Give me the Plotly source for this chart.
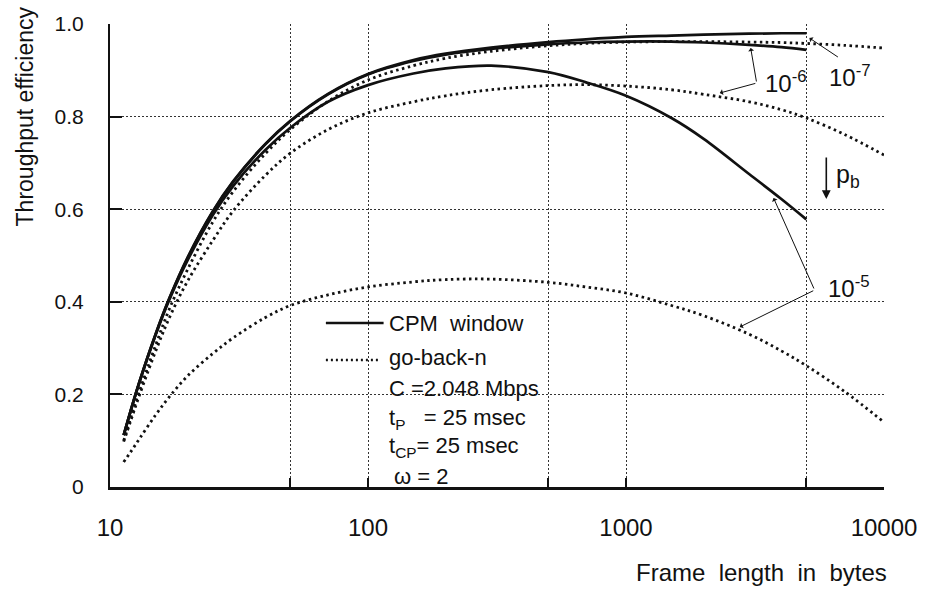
import plotly.graph_objects as go

# ---------------- data ----------------
frame_cpm = [11.3, 12, 13, 15, 17, 20, 25, 30, 40, 50, 70, 100, 150, 200, 300,
             500, 700, 1000, 1500, 2000, 3000, 4000, 5000]
cpm_pb1e7 = [0.112, 0.163, 0.227, 0.329, 0.408, 0.496, 0.595, 0.660, 0.741, 0.791,
             0.849, 0.892, 0.922, 0.936, 0.949, 0.961, 0.967, 0.972, 0.975, 0.977,
             0.979, 0.980, 0.980]
cpm_pb1e6 = [0.112, 0.163, 0.227, 0.329, 0.408, 0.495, 0.594, 0.659, 0.740, 0.790,
             0.848, 0.891, 0.920, 0.934, 0.946, 0.956, 0.960, 0.962, 0.962, 0.960,
             0.955, 0.950, 0.944]
cpm_pb1e5 = [0.112, 0.162, 0.226, 0.327, 0.405, 0.490, 0.587, 0.650, 0.728, 0.776,
             0.832, 0.868, 0.893, 0.904, 0.910, 0.896, 0.874, 0.845, 0.797, 0.752,
             0.676, 0.622, 0.578]

frame_gbn = [11.3, 12, 13, 15, 17, 20, 25, 30, 40, 50, 70, 100, 150, 200, 300,
             500, 700, 1000, 1500, 2000, 3000, 4000, 5000, 7000, 10000]
gbn_pb1e7 = [0.100, 0.147, 0.207, 0.305, 0.385, 0.470, 0.572, 0.638, 0.720, 0.772,
             0.833, 0.879, 0.910, 0.926, 0.941, 0.953, 0.958, 0.961, 0.962, 0.962,
             0.961, 0.960, 0.958, 0.954, 0.948]
gbn_pb1e6 = [0.098, 0.141, 0.198, 0.292, 0.366, 0.445, 0.532, 0.596, 0.673, 0.721,
             0.772, 0.808, 0.832, 0.845, 0.858, 0.867, 0.869, 0.866, 0.858, 0.848,
             0.832, 0.815, 0.797, 0.762, 0.717]
gbn_pb1e5 = [0.054, 0.075, 0.104, 0.155, 0.195, 0.240, 0.288, 0.322, 0.366, 0.392,
             0.415, 0.432, 0.443, 0.448, 0.449, 0.442, 0.432, 0.419, 0.392, 0.370,
             0.330, 0.294, 0.262, 0.207, 0.140]

x_tickvals = [10, 50, 100, 500, 1000, 5000, 10000]
x_ticktext = ["10", "", "100", "", "1000", "", "10000"]
y_tickvals = [0, 0.2, 0.4, 0.6, 0.8, 1.0]
y_ticktext = ["0", "0.2", "0.4", "0.6", "0.8", "1.0"]

legend_lines = ["CPM\u00a0\u00a0window", "go-back-n"]
param_lines = ["C =2.048 Mbps",
               "t<sub>P</sub>\u00a0\u00a0 = 25 msec",
               "t<sub>CP</sub>= 25 msec",
               "\u03c9 = 2"]

# ---------------- styling ----------------
W, H = 929, 589
PL, PR, PT, PB = 110, 888, 24, 487
FONT = "Liberation Sans, Arial, Helvetica, sans-serif"
INK = "#111"


def px(x):
    return (x - PL) / (PR - PL)


def py(y):
    return (PB - y) / (PB - PT)


SOLID = dict(color=INK, width=2.7)
DOTTED = dict(color=INK, width=2.8, dash="2.5px,3.5px")

fig = go.Figure()
for ys in (cpm_pb1e7, cpm_pb1e6, cpm_pb1e5):
    fig.add_trace(go.Scatter(x=frame_cpm, y=ys, mode="lines", line=SOLID,
                             line_shape="spline", showlegend=False, hoverinfo="skip"))
for ys in (gbn_pb1e7, gbn_pb1e6, gbn_pb1e5):
    fig.add_trace(go.Scatter(x=frame_gbn, y=ys, mode="lines", line=DOTTED,
                             line_shape="spline", showlegend=False, hoverinfo="skip"))

shapes = [
    # white boxes behind the key (hide grid there, as in the reference)
    dict(type="rect", xref="paper", yref="paper", layer="between",
         x0=px(320), x1=px(547), y0=py(391), y1=py(305),
         fillcolor="white", line=dict(width=0)),
    dict(type="rect", xref="paper", yref="paper", layer="between",
         x0=px(371), x1=px(547), y0=py(485), y1=py(390),
         fillcolor="white", line=dict(width=0)),
    # key samples
    dict(type="line", xref="paper", yref="paper", x0=px(327), x1=px(385),
         y0=py(323), y1=py(323), line=dict(color=INK, width=2.5)),
    dict(type="line", xref="paper", yref="paper", x0=px(327), x1=px(380),
         y0=py(360), y1=py(360), line=dict(color=INK, width=2.5, dash="2px,3px")),
]

ann = []


def text(x, y, s, size=22, xanchor="left", **kw):
    ann.append(dict(x=px(x), y=py(y), xref="paper", yref="paper", text=s,
                    showarrow=False, xanchor=xanchor, yanchor="middle",
                    font=dict(size=size, family=FONT, color=INK), **kw))


def arrow(tail, head, width=1, head_style=1, size=1.0):
    ann.append(dict(x=px(head[0]), y=py(head[1]), xref="paper", yref="paper",
                    ax=tail[0] - head[0], ay=tail[1] - head[1], text="",
                    showarrow=True, arrowhead=head_style, arrowsize=size,
                    arrowwidth=width, arrowcolor=INK))


# key text
text(388, 323, legend_lines[0])
text(388, 357, legend_lines[1])
text(388, 388, param_lines[0])
text(388, 419, param_lines[1])
text(388, 447, param_lines[2])
text(393, 476, param_lines[3])

# curve labels
text(766, 82, "10<sup>-6</sup>", size=24)
text(831, 76, "10<sup>-7</sup>", size=24)
text(830, 287, "10<sup>-5</sup>", size=24)
text(838, 176, "p<sub>b</sub>", size=25)

arrow((760, 83), (723, 93))
arrow((760, 83), (754, 48))
arrow((843, 58), (813, 38))
arrow((818, 290), (777, 198))
arrow((818, 290), (743, 327))
arrow((830, 156), (830, 199), width=1.6, head_style=2, size=1.1)

# axis titles
text(25, 116, "Throughput efficiency", size=23, xanchor="center", textangle=-90)
text(893, 572, "Frame\u00a0\u00a0length\u00a0\u00a0in\u00a0\u00a0bytes", size=24,
     xanchor="right")

fig.update_layout(
    width=W, height=H,
    margin=dict(l=PL, r=W - PR, t=PT, b=H - PB, pad=0),
    paper_bgcolor="white", plot_bgcolor="white",
    showlegend=False,
    shapes=shapes, annotations=ann,
)
fig.update_xaxes(
    type="log", range=[1, 4], tickvals=x_tickvals, ticktext=x_ticktext,
    ticks="inside", ticklen=9, tickwidth=2, tickcolor=INK,
    showline=True, linewidth=3, linecolor=INK,
    showgrid=True, gridcolor="#333", gridwidth=1, griddash="2px,2px",
    zeroline=False, ticklabelstandoff=17,
    tickfont=dict(size=24, family=FONT, color=INK),
)
fig.update_yaxes(
    range=[0, 1], tickvals=y_tickvals, ticktext=y_ticktext,
    ticks="inside", ticklen=12, tickwidth=2, tickcolor=INK,
    showline=True, linewidth=2, linecolor=INK,
    showgrid=True, gridcolor="#333", gridwidth=1, griddash="2px,2px",
    zeroline=False, ticklabelstandoff=20,
    tickfont=dict(size=21, family=FONT, color=INK),
)

fig.write_html("out.html", config={"displayModeBar": False},
               post_script="document.body.style.margin='0';")
